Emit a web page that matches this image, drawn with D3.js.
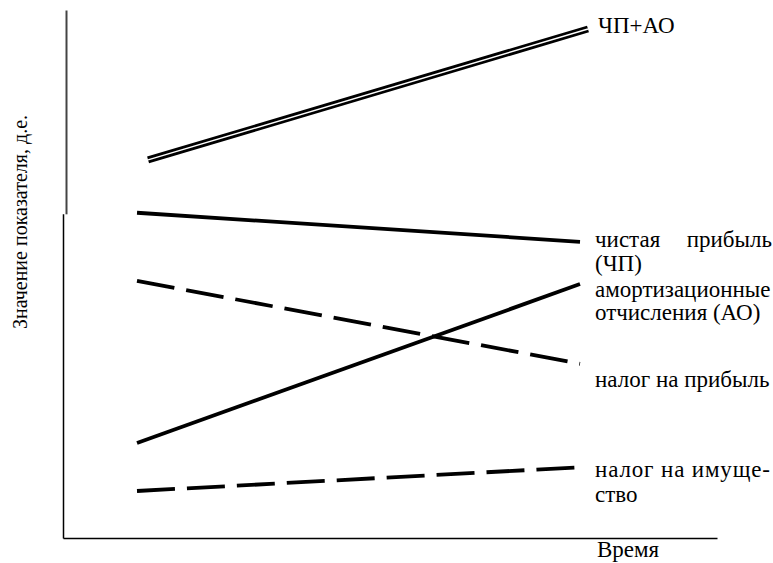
<!DOCTYPE html>
<html lang="ru">
<head>
<meta charset="UTF-8">
<script src="https://cdn.jsdelivr.net/npm/d3@7"></script>
<style>
  body { margin: 0; background: #fff; }
  svg { display: block; }
</style>
</head>
<body>
<div id="chart"></div>
<script>
// ось времени: 0 - начало, 1 - конец периода
var names = ["ЧП+АО", "чистая прибыль", "амортизационные отчисления", "налог на прибыль", "налог на имущество"];
var tStart = [0.025, 0, 0, 0, 0];
var tEnd = [1.018, 1, 1, 1, 1];
var vStart = [71.6, 61.6, 18.0, 48.7, 8.9];
var vEnd = [96.4, 56.1, 48.1, 33.0, 13.4];
var styles = ["double", "solid", "solid", "dash", "dash"];

var serif = "'Liberation Serif', 'Times New Roman', Times, 'DejaVu Serif', serif";

var width = 773, height = 563;
var svg = d3.select("#chart").append("svg").attr("width", width).attr("height", height);

var x = d3.scaleLinear().domain([0, 1]).range([137, 580]);
var y = d3.scaleLinear().domain([0, 100]).range([538, 10]);

// оси (без делений)
var yTop = d3.scaleLinear().domain([61.4, 100]).range([y(61.4), y(100)]);
var yBot = d3.scaleLinear().domain([0, 61.4]).range([y(0), y(61.4)]);
svg.append("g").attr("transform", "translate(66,0)")
  .call(d3.axisLeft(yTop).tickValues([]).tickSizeOuter(0))
  .select(".domain").attr("stroke", "#444").attr("stroke-width", 2);
svg.append("g").attr("transform", "translate(63,0)")
  .call(d3.axisLeft(yBot).tickValues([]).tickSizeOuter(0))
  .select(".domain").attr("stroke", "#000").attr("stroke-width", 1.5);

var xAxisScale = d3.scaleLinear().domain([-0.167, 1.299]).range([63, 717]);
svg.append("g").attr("transform", "translate(0," + y(0) + ")")
  .call(d3.axisBottom(xAxisScale).tickValues([]).tickSizeOuter(0))
  .select(".domain").attr("stroke", "#000").attr("stroke-width", 1.5);

var line = d3.line().x(function(d) { return x(d[0]); }).y(function(d) { return y(d[1]); });

names.forEach(function(n, i) {
  var pts = [[tStart[i], vStart[i]], [tEnd[i], vEnd[i]]];
  if (styles[i] == "double") {
    svg.append("path").datum(pts).attr("d", line)
      .attr("fill", "none").attr("stroke", "#000").attr("stroke-width", 7);
    svg.append("path").datum(pts).attr("d", line)
      .attr("fill", "none").attr("stroke", "#fff").attr("stroke-width", 1.4);
  } else {
    svg.append("path").datum(pts).attr("d", line)
      .attr("fill", "none").attr("stroke", "#000")
      .attr("stroke-width", 3.8)
      .attr("stroke-dasharray", styles[i] == "dash" ? "38,12" : null);
  }
});

// подписи линий
var lbl = svg.append("g").attr("font-size", 23).attr("font-family", serif).attr("fill", "#000");
lbl.append("text").attr("x", 598).attr("y", 33).text("ЧП+АО");
lbl.append("text").attr("x", 595).attr("y", 247).text("чистая");
lbl.append("text").attr("x", 772).attr("y", 247).attr("text-anchor", "end").text("прибыль");
lbl.append("text").attr("x", 595).attr("y", 271).text("(ЧП)");
lbl.append("text").attr("x", 595).attr("y", 297).text("амортизационные");
lbl.append("text").attr("x", 595).attr("y", 320).text("отчисления (АО)");
lbl.append("text").attr("x", 595).attr("y", 387).text("налог на прибыль");
lbl.append("text").attr("x", 595).attr("y", 477).attr("textLength", 175).attr("lengthAdjust", "spacing").text("налог на имуще-");
lbl.append("text").attr("x", 595).attr("y", 502).text("ство");
lbl.append("text").attr("x", 597).attr("y", 557).text("Время");

svg.append("text")
  .attr("transform", "translate(27,222) rotate(-90)")
  .attr("text-anchor", "middle").attr("font-size", 20).attr("font-family", serif)
  .text("Значение показателя, д.е.");
</script>
</body>
</html>
